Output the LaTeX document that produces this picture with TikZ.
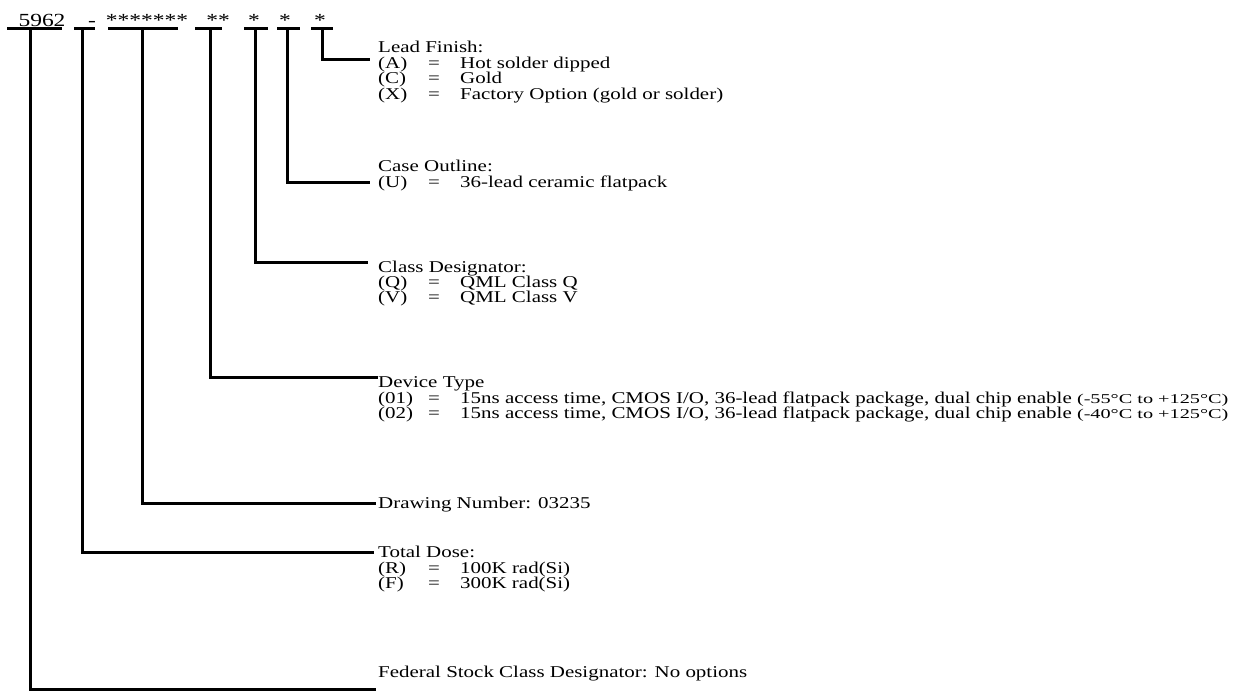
\documentclass[tikz,border=0pt]{standalone}
\usepackage{fontspec}
\setmainfont[FakeStretch=1.27]{Liberation Serif}
\newfontfamily\smallfam[FakeStretch=1.5]{Liberation Serif}
\newcommand\optrow[3]{\makebox[50pt][l]{#1}\makebox[32pt][l]{#2}#3}
\newcommand\tempr[1]{{\smallfam\fontsize{13.5}{14}\selectfont #1}}
\tikzset{
  lbl/.style={anchor=base west, inner sep=0pt, font=\fontsize{16.5}{17}\selectfont},
  toptxt/.style={anchor=base, inner sep=0pt, font=\fontsize{18.5}{19}\selectfont},
  conn/.style={line width=3pt},
  uline/.style={line width=3pt},
}
\begin{document}
\begin{tikzpicture}[x=1pt,y=-1pt]
\useasboundingbox (0,0) rectangle (1233,692);
% top part number
\node[toptxt] (p1) at (42,27) {5962};
\node[toptxt] (p2) at (92,27) {-};
\node[toptxt] (p3) at (147,27) {*******};
\node[toptxt] (p4) at (218,27) {**};
\node[toptxt] (p5) at (254,27) {*};
\node[toptxt] (p6) at (285,27) {*};
\node[toptxt] (p7) at (320,27) {*};
% underlines
\draw[uline] (7,29) -- (62,29);
\draw[uline] (74,29) -- (95,29);
\draw[uline] (108,29) -- (178,29);
\draw[uline] (195,29) -- (222,29);
\draw[uline] (244,29) -- (268,29);
\draw[uline] (277,29) -- (300,29);
\draw[uline] (311,29) -- (333,29);
% connector start points
\coordinate (u1) at (30,29);
\coordinate (u2) at (82,29);
\coordinate (u3) at (142,29);
\coordinate (u4) at (210,29);
\coordinate (u5) at (255,29);
\coordinate (u6) at (287,29);
\coordinate (u7) at (322,29);
% connector end points
\coordinate (e7) at (370,60);
\coordinate (e6) at (370,183);
\coordinate (e5) at (368,263);
\coordinate (e4) at (378,377);
\coordinate (e3) at (376,503);
\coordinate (e2) at (374,552);
\coordinate (e1) at (376,689);
% texts
\node[lbl] (lf0) at (378,53) {Lead Finish:};
\node[lbl] (lf1) at (378,69) {\optrow{(A)}{=}{Hot solder dipped}};
\node[lbl] (lf2) at (378,84) {\optrow{(C)}{=}{Gold}};
\node[lbl] (lf3) at (378,100) {\optrow{(X)}{=}{Factory Option (gold or solder)}};
\node[lbl] (co0) at (378,172) {Case Outline:};
\node[lbl] (co1) at (378,188) {\optrow{(U)}{=}{36-lead ceramic flatpack}};
\node[lbl] (cd0) at (378,273) {Class Designator:};
\node[lbl] (cd1) at (378,288) {\optrow{(Q)}{=}{QML Class Q}};
\node[lbl] (cd2) at (378,303) {\optrow{(V)}{=}{QML Class V}};
\node[lbl] (dt0) at (378,387) {Device Type};
\node[lbl] (dt1) at (378,403) {\optrow{(01)}{=}{15ns access time, CMOS I/O, 36-lead flatpack package, dual chip enable \tempr{(-55°C to +125°C)}}};
\node[lbl] (dt2) at (378,418) {\optrow{(02)}{=}{15ns access time, CMOS I/O, 36-lead flatpack package, dual chip enable \tempr{(-40°C to +125°C)}}};
\node[lbl] (dn0) at (378,508) {Drawing Number: 03235};
\node[lbl] (td0) at (378,557) {Total Dose:};
\node[lbl] (td1) at (378,573) {\optrow{(R)}{=}{100K rad(Si)}};
\node[lbl] (td2) at (378,588) {\optrow{(F)}{=}{300K rad(Si)}};
\node[lbl] (fs0) at (378,677) {Federal Stock Class Designator: No options};
% connectors
\draw[conn] (u7) |- (e7);
\draw[conn] (u6) |- (e6);
\draw[conn] (u5) |- (e5);
\draw[conn] (u4) |- (e4);
\draw[conn] (u3) |- (e3);
\draw[conn] (u2) |- (e2);
\draw[conn] (u1) |- (e1);
\end{tikzpicture}
\end{document}
